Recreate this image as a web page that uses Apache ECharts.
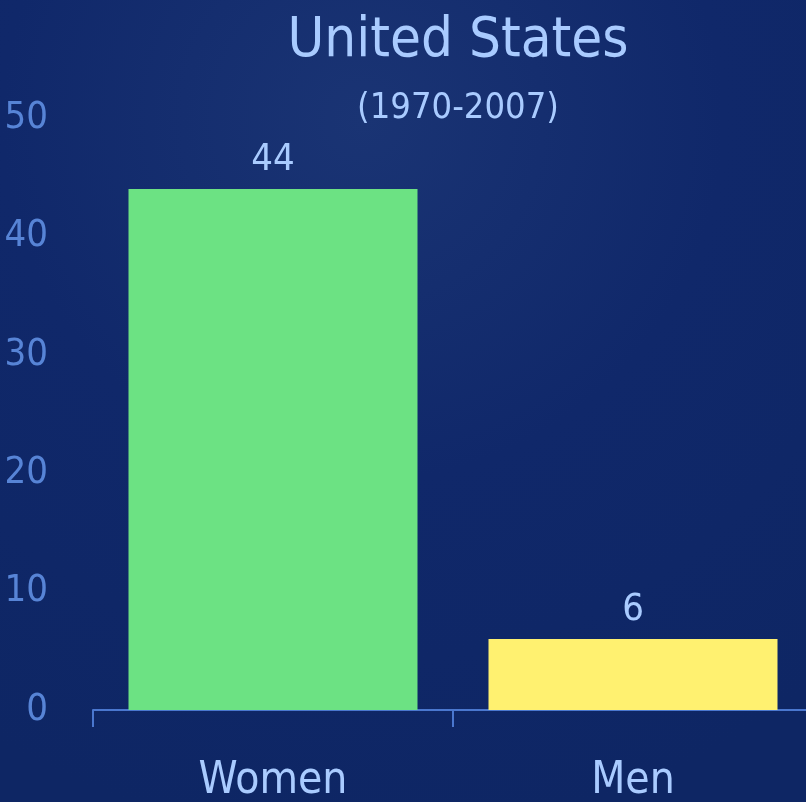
<!DOCTYPE html>
<html>
<head>
<meta charset="utf-8">
<script src="https://cdn.jsdelivr.net/npm/echarts@6/dist/echarts.min.js"></script>
<style>
  html, body { margin: 0; padding: 0; }
  #chart { width: 806px; height: 802px; }
</style>
</head>
<body>
<div id="chart"></div>
<script>
var categories = ["Women", "Men"];
var values = [44, 6];
var barColors = ["#6ce283", "#fff170"];
var yTicks = [0, 10, 20, 30, 40, 50];

var font = '"Liberation Sans Narrow", "DejaVu Sans Condensed", "Roboto", sans-serif';

var chart = echarts.init(document.getElementById("chart"));
var option = {
  backgroundColor: {
    type: "radial",
    x: 0.45, y: 0.15, r: 0.9,
    colorStops: [
      { offset: 0, color: "#1a3474" },
      { offset: 0.5, color: "#10286a" },
      { offset: 1, color: "#0e2664" }
    ]
  },
  title: {
    text: "United States",
    subtext: "(1970-2007)",
    left: 453,
    textAlign: "center",
    top: 8,
    itemGap: 22,
    textStyle: { color: "#a9cbff", fontSize: 56, fontWeight: "normal", fontFamily: font },
    subtextStyle: { color: "#a9cbff", fontSize: 36, fontFamily: font }
  },
  grid: { left: 93, top: 118, width: 720, height: 592, outerBoundsMode: "none" },
  xAxis: {
    type: "category",
    data: categories,
    axisLine: { lineStyle: { color: "#4a77cf", width: 2 } },
    axisTick: { show: true, length: 17, lineStyle: { color: "#4a77cf", width: 2 } },
    axisLabel: { color: "#a9cbff", fontSize: 44, fontFamily: font, margin: 50 }
  },
  yAxis: {
    type: "value",
    min: yTicks[0],
    max: yTicks[yTicks.length - 1],
    interval: 10,
    splitLine: { show: false },
    axisLine: { show: false },
    axisTick: { show: false },
    axisLabel: { color: "#5784d6", fontSize: 38, fontFamily: font, margin: 45 }
  },
  series: [{
    type: "bar",
    barWidth: 289,
    data: values.map(function (v, i) {
      return { value: v, itemStyle: { color: barColors[i] } };
    }),
    label: {
      show: true,
      position: "top",
      distance: 10,
      color: "#a9cbff",
      fontSize: 38,
      fontFamily: font
    }
  }]
};
chart.setOption(option);
</script>
</body>
</html>
